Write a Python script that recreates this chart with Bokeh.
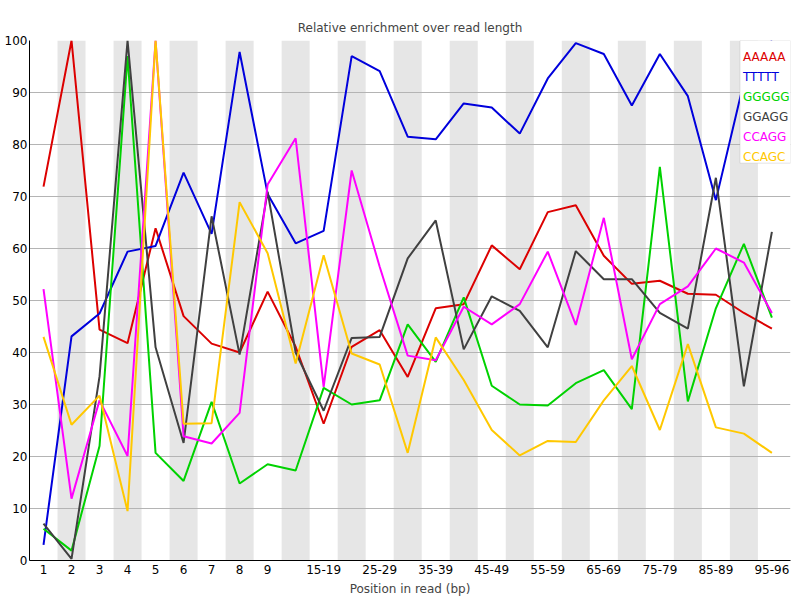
from bokeh.plotting import figure
from bokeh.models import FixedTicker, BoxAnnotation, Label, Title
from bokeh.embed import file_html
from bokeh.resources import INLINE

categories = ["1", "2", "3", "4", "5", "6", "7", "8", "9", "10-14", "15-19", "20-24",
              "25-29", "30-34", "35-39", "40-44", "45-49", "50-54", "55-59", "60-64",
              "65-69", "70-74", "75-79", "80-84", "85-89", "90-94", "95-96"]
positions = list(range(1, len(categories) + 1))
labelled = [1, 2, 3, 4, 5, 6, 7, 8, 9, 11, 13, 15, 17, 19, 21, 23, 25, 27]

aaaaa = [71.9, 100, 44.4, 41.8, 63.9, 47, 41.7, 40, 51.7, 41.1, 26.3, 41.1, 44.3, 35.3,
         48.5, 49.3, 60.6, 56, 67, 68.3, 58.6, 53.2, 53.8, 51.3, 51.1, 47.6, 44.6]
ttttt = [3, 43.1, 47.5, 59.4, 60.5, 74.6, 62.8, 97.8, 70.5, 61, 63.4, 97, 94.1, 81.5,
         81, 87.9, 87.1, 82.1, 92.7, 99.5, 97.4, 87.5, 97.4, 89.3, 69.3, 92, 100]
ggggg = [6.1, 1.9, 22, 97, 20.7, 15.3, 30.5, 14.8, 18.5, 17.3, 33.2, 30, 30.8, 45.4,
         38.2, 50.6, 33.6, 30, 29.8, 34.1, 36.6, 29.1, 75.7, 30.6, 48.5, 60.9, 46.7]
ggagg = [7.1, 0.3, 35.4, 100, 41, 22.6, 66.2, 39.6, 70.9, 40, 28.8, 42.8, 43, 58.1,
         65.4, 40.6, 50.8, 48, 41, 59.5, 54.1, 54.1, 47.6, 44.6, 73.6, 33.5, 63.2]
ccagg = [52.2, 11.9, 30.8, 20.1, 100, 23.9, 22.5, 28.4, 72.3, 81.2, 33.4, 75, 56.5, 39.4,
         38.5, 48.8, 45.4, 49.3, 59.4, 45.3, 65.9, 38.7, 49.3, 52.7, 60, 57.3, 47.6]
ccagc = [43, 26.1, 31.7, 9.5, 100, 26.3, 26.4, 68.9, 59.1, 37.9, 58.7, 39.8, 37.7, 20.7,
         42.9, 34.7, 25.1, 20.2, 23, 22.8, 30.8, 37.4, 25.1, 41.6, 25.6, 24.4, 20.7]

series_names = ["AAAAA", "TTTTT", "GGGGG", "GGAGG", "CCAGG", "CCAGC"]
series_values = [aaaaa, ttttt, ggggg, ggagg, ccagg, ccagc]
series_colors = ["#DC0000", "#0000DC", "#00D200", "#404040", "#FF00FF", "#FFC800"]

FONT = "DejaVu Sans"
px_per_unit = 28.015
frame_w = 761
x_end = 0.5 + frame_w / px_per_unit

p = figure(width=800, height=600, output_backend="svg", toolbar_location=None,
           x_range=(0.5, x_end), y_range=(0, 100),
           min_border_left=29, min_border_right=10, min_border_top=40, min_border_bottom=40)
p.outline_line_color = None
p.background_fill_color = "white"
p.border_fill_color = "white"

# alternating bands
bands = [x for x in positions if x % 2 == 0]
r = p.vbar(x=bands, top=100, bottom=0, width=1, fill_color="#E6E6E6", line_color=None)
r.level = "image"

for vals, col in zip(series_values, series_colors):
    p.line(positions, vals, line_color=col, line_width=2)

p.xgrid.grid_line_color = None
p.ygrid.grid_line_color = "#B4B4B4"
p.ygrid.grid_line_width = 1
p.yaxis.ticker = FixedTicker(ticks=list(range(0, 101, 10)))
p.xaxis.ticker = FixedTicker(ticks=labelled)
p.xaxis.major_label_overrides = {i: categories[i - 1] for i in labelled}

for ax in (p.xaxis[0], p.yaxis[0]):
    ax.axis_line_color = "black"
    ax.axis_line_width = 1
    ax.major_tick_line_color = None
    ax.minor_tick_line_color = None
    ax.major_tick_out = 0
    ax.major_tick_in = 0
    ax.minor_tick_out = 0
    ax.minor_tick_in = 0
    ax.major_label_text_font = FONT
    ax.major_label_text_font_size = "12px"
    ax.major_label_text_color = "black"
p.yaxis.major_label_standoff = 2
p.xaxis.major_label_standoff = 4

# title and axis label
p.title.text = "Relative enrichment over read length"
p.title.align = "center"
p.title.text_font = FONT
p.title.text_font_size = "12px"
p.title.text_font_style = "normal"
p.title.standoff = 11
p.add_layout(Title(text="Position in read (bp)", align="center", offset=-9.5,
                   text_font=FONT, text_font_size="12px", text_font_style="normal",
                   standoff=6), "below")

# legend box
leg_left = 0.5 + (739.5 - 29) / px_per_unit
p.add_layout(BoxAnnotation(left=leg_left, right=x_end, top=100, bottom=(560 - 162.7) / 5.2,
                           fill_color="white", fill_alpha=1, line_color="#AAAAAA", line_width=1))
for i, (name, col) in enumerate(zip(series_names, series_colors)):
    ypix = 56 + i * 20
    p.add_layout(Label(x=0.5 + (742.5 - 29) / px_per_unit, y=(560 - ypix) / 5.2, text=name,
                       text_font=FONT, text_font_size="12px", text_align="left",
                       text_baseline="middle", text_color=col))

open("out.html", "w").write(file_html(p, INLINE))
